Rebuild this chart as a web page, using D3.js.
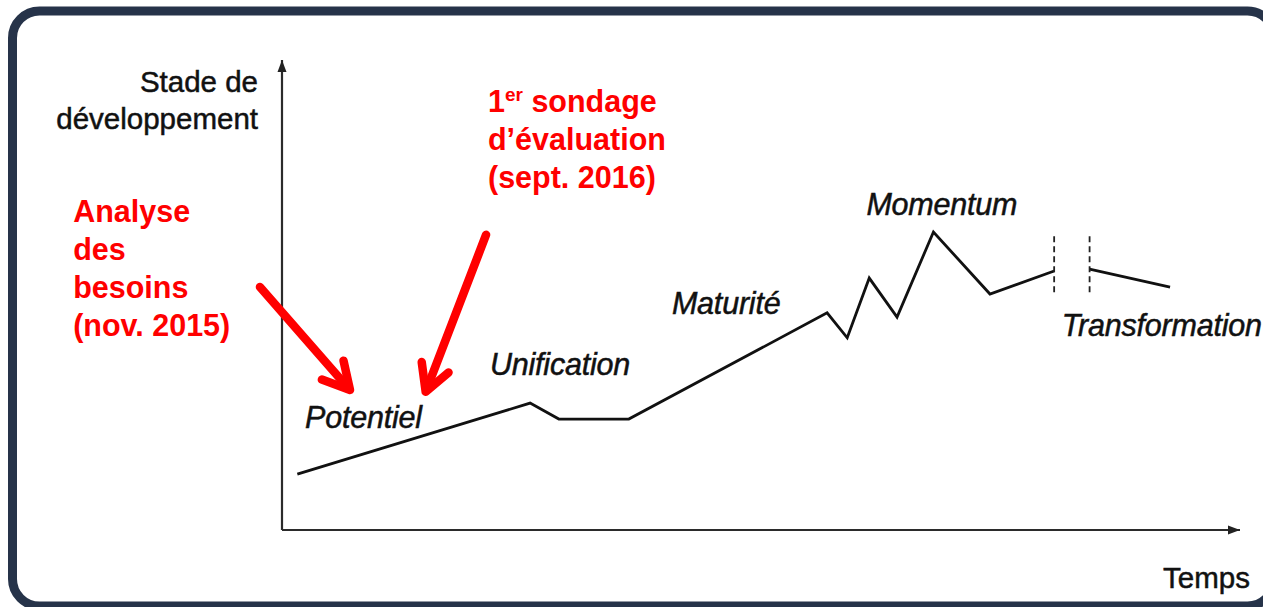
<!DOCTYPE html>
<html>
<head>
<meta charset="utf-8">
<script src="https://cdn.jsdelivr.net/npm/d3@7"></script>
<style>
  html, body { margin: 0; padding: 0; background: #fff; }
  svg { display: block; }
</style>
</head>
<body>
<svg width="1263" height="607"></svg>
<script>
// the development curve (time 0-100, stage 0-100)
var pathTime  = [1.6, 25.9, 28.9, 36.2, 56.9, 59.0, 61.3, 64.2, 68.0, 73.9, 80.6];
var pathStage = [11.9, 27.0, 23.6, 23.6, 46.2, 40.9, 53.6, 45.3, 63.4, 50.2, 55.1];
// piece after the break
var tailTime  = [84.3, 92.7];
var tailStage = [55.5, 51.7];
// dashed break marks
var breakTime  = [80.6, 84.3];
var breakStage = [50.6, 62.8];

// phase labels
var phaseNames = ["Potentiel", "Unification", "Maturité", "Momentum", "Transformation"];
var phaseTime  = [2.4, 21.7, 40.7, 61.0, 81.4];
var phaseStage = [21.7, 33.0, 46.0, 67.0, 41.3];

// red annotations
var noteLines = [
  ["Analyse", "des", "besoins", "(nov. 2015)"],
  ["1|er| sondage", "d’évaluation", "(sept. 2016)"]
];
var noteTime  = [-21.8, 21.5];
var noteStage = [65.5, 88.9];
var arrowFrom = [[-2.3, 51.7], [21.3, 62.8]];
var arrowTo   = [[7.1, 29.8], [15.0, 29.4]];

var svg = d3.select("svg"),
    width = +svg.attr("width"),
    height = +svg.attr("height");

var x = d3.scaleLinear().domain([0, 100]).range([282, 1240]);
var y = d3.scaleLinear().domain([0, 100]).range([530, 60]);

// frame (right side runs off the picture)
svg.append("rect")
    .attr("x", 12.5).attr("y", 11)
    .attr("width", 1262).attr("height", 595)
    .attr("rx", 27).attr("ry", 27)
    .attr("fill", "#fff")
    .attr("stroke", "#263349")
    .attr("stroke-width", 9);

svg.append("defs").append("marker")
    .attr("id", "axis-arrow")
    .attr("viewBox", "0 -5 12 10")
    .attr("refX", 12).attr("refY", 0)
    .attr("markerWidth", 12).attr("markerHeight", 10)
    .attr("markerUnits", "userSpaceOnUse")
    .attr("orient", "auto")
  .append("path")
    .attr("d", "M0,-4.5L12,0L0,4.5Z")
    .attr("fill", "#222");

// axes
svg.append("line")
    .attr("x1", x(0)).attr("y1", y(0))
    .attr("x2", x(0)).attr("y2", y(100))
    .attr("stroke", "#2b2b2b").attr("stroke-width", 2.2)
    .attr("marker-end", "url(#axis-arrow)");
svg.append("line")
    .attr("x1", x(0)).attr("y1", y(0))
    .attr("x2", x(100)).attr("y2", y(0))
    .attr("stroke", "#2b2b2b").attr("stroke-width", 2.2)
    .attr("marker-end", "url(#axis-arrow)");

var axisFont = "'Liberation Sans', Arial, sans-serif";

var ytitle = svg.append("text")
    .attr("text-anchor", "end")
    .style("font-family", axisFont)
    .style("font-size", "29.5px")
    .attr("fill", "#111")
    .attr("stroke", "#111").attr("stroke-width", 0.5);
ytitle.append("tspan").attr("x", x(0) - 24).attr("y", 92).text("Stade de");
ytitle.append("tspan").attr("x", x(0) - 24).attr("y", 129).text("développement");

svg.append("text")
    .attr("x", 1250).attr("y", 588)
    .attr("text-anchor", "end")
    .style("font-family", axisFont)
    .style("font-size", "29.5px")
    .attr("fill", "#111")
    .attr("stroke", "#111").attr("stroke-width", 0.5)
    .text("Temps");

// curve
var line = d3.line()
    .x(function(d) { return x(d[0]); })
    .y(function(d) { return y(d[1]); });

var mainPts = pathTime.map(function(t, i) { return [t, pathStage[i]]; });
var tailPts = tailTime.map(function(t, i) { return [t, tailStage[i]]; });

svg.selectAll("path.curve")
    .data([mainPts, tailPts])
    .enter().append("path")
      .attr("class", "curve")
      .attr("d", line)
      .attr("fill", "none")
      .attr("stroke", "#111")
      .attr("stroke-width", 2.8)
      .attr("stroke-linejoin", "miter");

svg.selectAll("line.break")
    .data(breakTime)
    .enter().append("line")
      .attr("class", "break")
      .attr("x1", function(d) { return x(d); })
      .attr("x2", function(d) { return x(d); })
      .attr("y1", y(breakStage[0]))
      .attr("y2", y(breakStage[1]))
      .attr("stroke", "#222")
      .attr("stroke-width", 1.8)
      .attr("stroke-dasharray", "6,4");

// phase labels
svg.selectAll("text.phase")
    .data(phaseNames)
    .enter().append("text")
      .attr("class", "phase")
      .attr("x", function(d, i) { return x(phaseTime[i]); })
      .attr("y", function(d, i) { return y(phaseStage[i]); })
      .style("font-family", axisFont)
      .style("font-style", "italic")
      .style("font-size", "30.5px")
      .style("letter-spacing", "-0.2px")
      .attr("fill", "#111")
      .attr("stroke", "#111").attr("stroke-width", 0.5)
      .text(function(d) { return d; });

// red notes
noteLines.forEach(function(lines, n) {
  var t = svg.append("text")
      .style("font-family", axisFont)
      .style("font-weight", "bold")
      .style("font-size", "30.5px")
      .attr("fill", "#ff0000");
  lines.forEach(function(s, k) {
    var ty = y(noteStage[n]) + k * 37.8;
    if (s.indexOf("|") >= 0) {
      var parts = s.split("|");
      t.append("tspan").attr("x", x(noteTime[n])).attr("y", ty).text(parts[0]);
      t.append("tspan").attr("dy", -11).style("font-size", "19px").text(parts[1]);
      t.append("tspan").attr("dy", 11).text(parts[2]);
    } else {
      t.append("tspan").attr("x", x(noteTime[n])).attr("y", ty).text(s);
    }
  });
});

// red arrows
arrowFrom.forEach(function(f, i) {
  var x0 = x(f[0]), y0 = y(f[1]),
      x1 = x(arrowTo[i][0]), y1 = y(arrowTo[i][1]);
  var ang = Math.atan2(y0 - y1, x0 - x1),
      len = 30, spread = 0.5;
  var a1 = [x1 + len * Math.cos(ang + spread), y1 + len * Math.sin(ang + spread)],
      a2 = [x1 + len * Math.cos(ang - spread), y1 + len * Math.sin(ang - spread)];
  var g = svg.append("g")
      .attr("fill", "none")
      .attr("stroke", "#ff0000")
      .attr("stroke-width", 8.5)
      .attr("stroke-linecap", "round")
      .attr("stroke-linejoin", "round");
  g.append("path").attr("d", "M" + x0 + "," + y0 + "L" + (x1 + 3 * Math.cos(ang)) + "," + (y1 + 3 * Math.sin(ang)));
  g.append("path").attr("d", "M" + a1 + "L" + x1 + "," + y1 + "L" + a2);
});
</script>
</body>
</html>
